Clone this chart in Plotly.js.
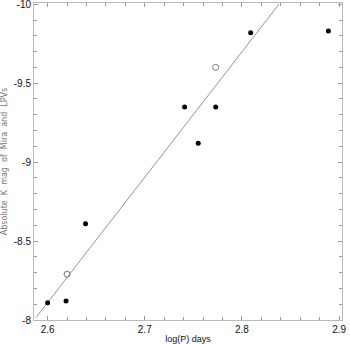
<!DOCTYPE html>
<html>
<head>
<meta charset="utf-8">
<script src="https://cdn.plot.ly/plotly-3.0.1.min.js"></script>
<style>
  html, body { margin: 0; padding: 0; background: #fff; }
  #chart { width: 350px; height: 344px; }
</style>
</head>
<body>
<div id="chart"></div>
<script>
// filled points
const filledLogP = [2.600, 2.619, 2.639, 2.741, 2.755, 2.773, 2.809, 2.889];
const filledMagK = [-8.11, -8.12, -8.61, -9.35, -9.12, -9.35, -9.82, -9.83];

// open points
const openLogP = [2.620, 2.773];
const openMagK = [-8.29, -9.60];

// fitted relation
const fitLogP = [2.588, 2.838];
const fitMagK = [-8.015, -10.0];

const xTicks = [2.6, 2.7, 2.8, 2.9];
const yTicks = [-8, -8.5, -9, -9.5, -10];

var traceFit = {
    x: fitLogP,
    y: fitMagK,
    mode: 'lines',
    line: { color: '#777', width: 0.8 },
    hoverinfo: 'skip'
};

var traceFilled = {
    x: filledLogP,
    y: filledMagK,
    mode: 'markers',
    marker: { size: 5, color: '#000' }
};

var traceOpen = {
    x: openLogP,
    y: openMagK,
    mode: 'markers',
    marker: { size: 6, color: 'rgba(0,0,0,0)', line: { color: '#777', width: 1 } }
};

var axisBase = {
    showgrid: false,
    zeroline: false,
    showline: true,
    linecolor: '#bbb',
    linewidth: 1,
    mirror: 'allticks',
    ticks: 'inside',
    ticklen: 4,
    tickcolor: '#999',
    ticklabeloverflow: 'allow',
    tickfont: { family: 'Liberation Sans, Arial, sans-serif', size: 10, color: '#111' }
};

var layout = {
    width: 350,
    height: 344,
    showlegend: false,
    plot_bgcolor: '#fff',
    paper_bgcolor: '#fff',
    margin: { l: 34, r: 8, t: 3, b: 24 },
    xaxis: Object.assign({}, axisBase, {
        range: [2.586, 2.903],
        tickvals: xTicks,
        ticktext: xTicks.map(v => v.toFixed(1)),
        minor: { dtick: 0.02, ticks: 'inside', ticklen: 3, tickcolor: '#999' },
        title: { text: 'log(P) days', standoff: 4,
                 font: { family: 'Liberation Sans, Arial, sans-serif', size: 9, color: '#111' } }
    }),
    yaxis: Object.assign({}, axisBase, {
        range: [-8, -10.008],
        tickvals: yTicks,
        ticktext: yTicks.map(v => String(v)),
        minor: { dtick: 0.1, ticks: 'inside', ticklen: 3, tickcolor: '#999' },
        title: { text: 'Absolute  K  mag  of  Mira  and  LPVs', standoff: 6,
                 font: { family: 'DejaVu Sans, sans-serif', size: 8, color: '#777' } }
    })
};

Plotly.newPlot('chart', [traceFit, traceFilled, traceOpen], layout, { displayModeBar: false, staticPlot: true });
</script>
</body>
</html>
